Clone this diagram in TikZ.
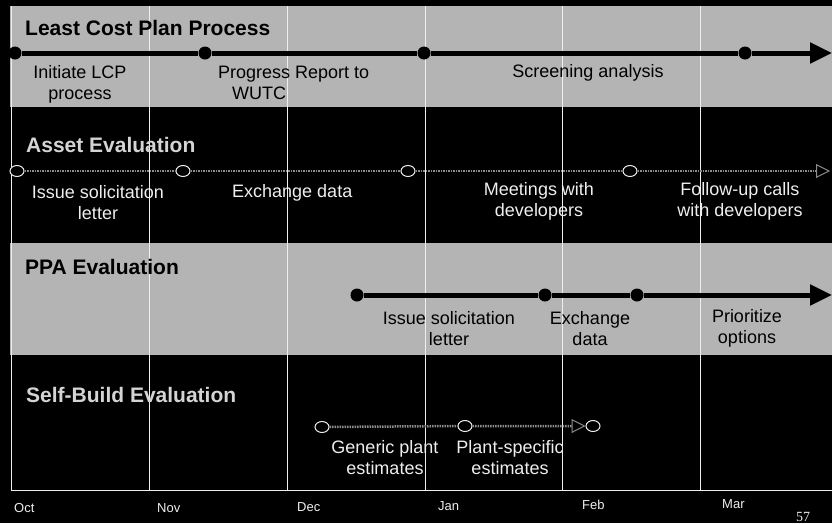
\documentclass[tikz,border=0pt]{standalone}
\usepackage{fontspec}
\setmainfont{Liberation Sans}
\newfontfamily\pagenumfont{Liberation Serif}
\usetikzlibrary{arrows.meta,shapes.geometric}
\definecolor{bandgray}{HTML}{B4B4B4}
\definecolor{dimwhite}{HTML}{EEEEEE}
\definecolor{titlegray}{HTML}{D4D4D4}
\definecolor{dotline}{HTML}{8C8C8C}

\begin{document}
\begin{tikzpicture}[x=1pt, y=-1pt,
    bandtitle/.style={anchor=base west, inner sep=0pt, font=\fontsize{21}{24}\selectfont\bfseries},
    lbl/.style={align=center, inner sep=0pt, anchor=base, font=\fontsize{18}{21}\selectfont},
    month/.style={anchor=base west, inner sep=0pt, text=dimwhite, font=\fontsize{13}{15}\selectfont},
    fulldot/.style={circle, fill=black, inner sep=0pt, minimum size=13pt},
    opendot/.style={ellipse, draw=dimwhite, line width=1pt, fill=black, inner sep=0pt, minimum width=14pt, minimum height=11pt},
    solidline/.style={line width=5pt, -{Triangle[length=22pt,width=20pt]}},
    faintline/.style={draw=dotline, line width=2.5pt, dash pattern=on 1.5pt off 1pt, -{Triangle[open,length=14pt,width=14pt,line width=1pt]}},
    gridline/.style={draw=dimwhite, line width=0.8pt}]
    \useasboundingbox (0,0) rectangle (832,523);
    \fill[black] (0,0) rectangle (832,523);

    % Bands
    \fill[bandgray] (10,6) rectangle (832,107);
    \fill[bandgray] (10,243) rectangle (832,355);

    % Month grid
    \foreach \gx in {11,149,287,425,562,700}
        \draw[gridline] (\gx,6) -- (\gx,490);
    \draw[gridline] (11,490) -- (832,490);

    % Least Cost Plan Process
    \node[bandtitle] (lcptitle) at (25,35) {Least Cost Plan Process};
    \node[fulldot] (lcp1) at (15,53) {};
    \node[fulldot] (lcp2) at (205,53) {};
    \node[fulldot] (lcp3) at (424,53) {};
    \node[fulldot] (lcp4) at (745,53) {};
    \coordinate (lcpend) at (832,53);
    \draw[solidline] (lcp1) -- (lcp2) -- (lcp3) -- (lcp4) -- (lcpend);
    \node[lbl] (initiate) at (80,99) {Initiate LCP\\process};
    \node[lbl, align=left, anchor=base west] (progress) at (218,99) {Progress Report to\\\hspace*{14pt}WUTC};
    \node[lbl] (screening) at (588,77) {Screening analysis};

    % Asset Evaluation
    \node[bandtitle, text=titlegray] (assettitle) at (26,152) {Asset Evaluation};
    \node[opendot] (asset1) at (17,171) {};
    \node[opendot] (asset2) at (183,171) {};
    \node[opendot] (asset3) at (408,171) {};
    \node[opendot] (asset4) at (630,171) {};
    \coordinate (assetend) at (830,171);
    \draw[faintline] (asset1) -- (asset2) -- (asset3) -- (asset4) -- (assetend);
    \node[lbl, text=dimwhite] (assetissue) at (98,219) {Issue solicitation\\letter};
    \node[lbl, text=dimwhite, anchor=base west] (assetexchange) at (232,197) {Exchange data};
    \node[lbl, text=dimwhite] (meetings) at (539,216) {Meetings with\\developers};
    \node[lbl, text=dimwhite] (followup) at (740,216) {Follow-up calls\\with developers};

    % PPA Evaluation
    \node[bandtitle] (ppatitle) at (25,274) {PPA Evaluation};
    \node[fulldot] (ppa1) at (357,295) {};
    \node[fulldot] (ppa2) at (545,295) {};
    \node[fulldot] (ppa3) at (637,295) {};
    \coordinate (ppaend) at (832,295);
    \draw[solidline] (ppa1) -- (ppa2) -- (ppa3) -- (ppaend);
    \node[lbl] (ppaissue) at (449,345) {Issue solicitation\\letter};
    \node[lbl] (ppaexchange) at (590,345) {Exchange\\data};
    \node[lbl] (prioritize) at (747,343) {Prioritize\\options};

    % Self-Build Evaluation
    \node[bandtitle, text=titlegray] (selftitle) at (26,402) {Self-Build Evaluation};
    \node[opendot] (self1) at (322,427) {};
    \node[opendot] (self2) at (465,426) {};
    \node[opendot] (self3) at (593,426) {};
    \draw[faintline] (self1) -- (self2) -- (self3);
    \node[lbl, text=dimwhite] (generic) at (385,474) {Generic plant\\estimates};
    \node[lbl, text=dimwhite] (specific) at (510,474) {Plant-specific\\estimates};

    % Months
    \node[month] (oct) at (14,512) {Oct};
    \node[month] (nov) at (157,512) {Nov};
    \node[month] (dec) at (297,511) {Dec};
    \node[month] (jan) at (438,510) {Jan};
    \node[month] (feb) at (582,509) {Feb};
    \node[month] (mar) at (722,508) {Mar};
    \node[anchor=base west, inner sep=0pt, text=dimwhite, font=\pagenumfont\fontsize{14}{16}\selectfont] (pagenum) at (796,521) {57};
\end{tikzpicture}
\end{document}
